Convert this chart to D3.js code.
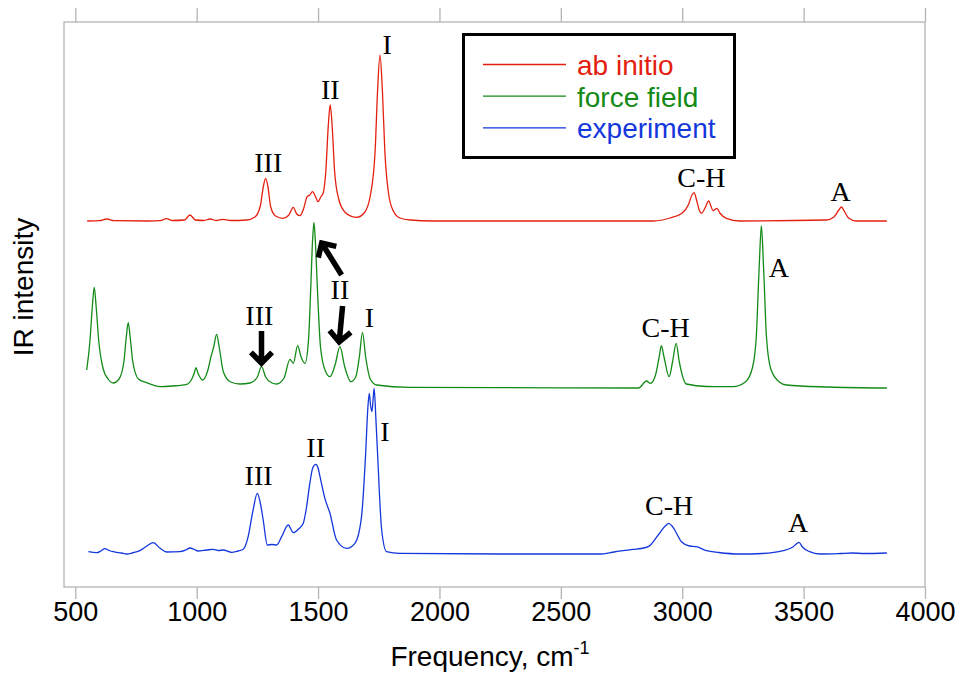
<!DOCTYPE html>
<html>
<head>
<meta charset="utf-8">
<script src="https://cdn.jsdelivr.net/npm/d3@7"></script>
<style>
  body { margin: 0; background: #fff; }
  svg { display: block; }
</style>
</head>
<body>
<svg id="chart" width="963" height="700"></svg>
<script>
// ---------- data ----------
const xTicks = [500, 1000, 1500, 2000, 2500, 3000, 3500, 4000];
const seriesNames = ["ab initio", "force field", "experiment"];
const seriesColors = ["#e3200f", "#138a17", "#1437dc"];
const seriesOffsets = [366, 200, 34];

// [frequency (cm-1), intensity above trace baseline]
const abInitio = [
  [549,0],[600,0.3],[629,2],[660,0.3],[800,0],[850,0.3],[876,2.3],[900,0.5],[950,1],[972,6],[995,1],
  [1030,0.5],[1055,2],[1080,0.5],[1107,1.7],[1140,0.5],[1206,1],[1240,4],[1262,15],[1275,35],[1284,42.7],
  [1293,35],[1305,14],[1325,5],[1356,2.7],[1380,6],[1398,13.7],[1412,7],[1425,5.3],[1440,12],[1455,24.3],
  [1466,26],[1477,29.3],[1490,24],[1500,19.3],[1511,24],[1521,28],[1532,50],[1542,95],[1550,116],[1558,95],
  [1568,50],[1585,22],[1610,9],[1640,4.5],[1659,3.7],[1690,8],[1715,25],[1735,70],[1745,130],[1755,166],
  [1765,130],[1775,70],[1790,28],[1810,10],[1837,3],[1880,1],[1973,0],[2500,0],[2880,0],[2950,3],[3000,8],
  [3025,16],[3040,26],[3049,28.3],[3058,22],[3070,11],[3079,7.7],[3092,12],[3109,20],[3118,15],[3127,10.3],
  [3143,12.7],[3155,8],[3182,2.7],[3237,0],[3594,1],[3625,4],[3645,11],[3656,14],[3667,10],[3685,3],
  [3717,0],[3843,0]
];
const forceField = [
  [547,17],[560,45],[570,80],[578,99.7],[586,80],[597,45],[615,18],[635,8],[656,4],[680,8],[700,25],
  [710,50],[718,64.3],[726,50],[737,25],[760,8],[794,4.3],[849,0.3],[900,1],[959,2.7],[980,8],[990,14],
  [997,19.3],[1005,14],[1025,7],[1045,16],[1059,30.3],[1070,40],[1082,52.7],[1094,38],[1110,15],[1140,5],
  [1178,3],[1220,4],[1250,10],[1267,20.3],[1284,10],[1310,4],[1329,3],[1360,9],[1384,27.7],[1398,23.7],
  [1416,41.3],[1430,30],[1446,23.7],[1460,45],[1470,100],[1477,145],[1483,164.7],[1489,145],[1497,100],
  [1510,40],[1530,16],[1549,10.3],[1570,22],[1590,40.3],[1610,20],[1635,5.3],[1655,10],[1670,30],
  [1683,54.7],[1696,30],[1715,8],[1741,2],[1878,-0.3],[2500,-0.8],[2820,-1],[2853,6],[2869,3.7],[2890,12],
  [2905,30],[2914,41.3],[2925,30],[2946,10.3],[2960,25],[2975,43.7],[2988,25],[3017,3],[3100,0.5],
  [3209,0.3],[3260,5],[3290,20],[3305,50],[3317,120],[3326,161.3],[3335,120],[3347,50],[3365,18],
  [3400,5],[3429,2],[3600,0],[3843,-1]
];
const experiment = [
  [554,1.3],[588,0.3],[605,2],[622,4.3],[640,2.5],[656,1.3],[690,0],[712,-1],[740,0.5],[766,2.3],[795,7],
  [821,10.3],[848,5],[876,1],[931,1.3],[955,3],[972,5],[990,3.5],[1006,2],[1040,3],[1068,3.7],[1090,2.5],
  [1109,3],[1144,0.7],[1170,2],[1192,3.7],[1212,16.3],[1230,40],[1250,59.7],[1262,50],[1274,33],[1291,8],
  [1310,8.5],[1329,8],[1350,16.3],[1377,28],[1398,20.3],[1420,24],[1439,29.7],[1452,45],[1466,69.7],
  [1478,85],[1491,88.7],[1500,85],[1508,76.3],[1528,54.7],[1549,39.7],[1576,13],[1618,4.7],[1652,9.7],
  [1679,36.3],[1696,99.7],[1705,145],[1711,159.7],[1716,148],[1722,141.3],[1727,155],[1731,164.7],
  [1738,135],[1745,99.7],[1762,23],[1782,1.3],[1837,-0.3],[2249,-1],[2660,-1],[2720,1],[2798,3.7],
  [2830,4.5],[2860,6.3],[2901,18],[2930,27],[2945,29.7],[2958,27],[2969,23],[2997,11.3],[3030,7],
  [3059,6.3],[3100,2.3],[3150,0.5],[3237,-1],[3330,-0.5],[3416,2.3],[3457,6.3],[3470,9],[3481,10.7],
  [3495,6],[3525,1.3],[3566,-1],[3650,-0.5],[3700,0],[3750,-0.5],[3843,0]
];
const seriesData = [abInitio, forceField, experiment];

// peak labels: [text, frequency, level]
const peakLabels = [
  ["III",1295,415],["II",1550,488],["I",1785,533],["C-H",3079,400],["A",3652,386],
  ["III",1258,262],["II",1590,288],["I",1711,260],["C-H",2932,250],["A",3398,310],
  ["III",1255,102],["II",1490,130],["I",1775,146],["C-H",2946,72],["A",3477,55]
];
// arrows: [fromFreq, fromLevel, toFreq, toLevel]
const arrows = [
  [1267,256,1267,224],
  [1601,281,1587,245],
  [1597,312,1515,344]
];

// ---------- layout ----------
const svg = d3.select("#chart");
const frame = {left: 64, right: 925, top: 22, bottom: 587};
const x = d3.scaleLinear().domain([500, 4000]).range([75.3, 925]);
const y = d3.scaleLinear().domain([0, 565]).range([587, 22]);

// frame
svg.append("rect")
  .attr("x", frame.left).attr("y", frame.top)
  .attr("width", frame.right - frame.left).attr("height", frame.bottom - frame.top)
  .attr("fill", "none").attr("stroke", "#b4b4b4").attr("stroke-width", 1.3);

// bottom axis
const bottomAxis = d3.axisBottom(x).tickValues(xTicks).tickSize(12).tickPadding(3).tickFormat(d3.format("d"));
const gb = svg.append("g").attr("transform", `translate(0,${frame.bottom})`).call(bottomAxis);
gb.select(".domain").remove();
gb.selectAll(".tick line").attr("stroke", "#b4b4b4").attr("stroke-width", 1.3);
gb.selectAll(".tick text").attr("font-family", "'Liberation Sans', Arial, sans-serif")
  .attr("font-size", 27).attr("fill", "#000");

// top axis ticks
const topAxis = d3.axisTop(x).tickValues(xTicks).tickSize(14).tickFormat("");
const gt = svg.append("g").attr("transform", `translate(0,${frame.top})`).call(topAxis);
gt.select(".domain").remove();
gt.selectAll(".tick line").attr("stroke", "#b4b4b4").attr("stroke-width", 1.3);

// axis titles
const xt = svg.append("text")
  .attr("x", 490).attr("y", 666)
  .attr("text-anchor", "middle")
  .attr("font-family", "'Liberation Sans', Arial, sans-serif")
  .attr("font-size", 28).attr("fill", "#000");
xt.append("tspan").text("Frequency, cm");
xt.append("tspan").attr("dy", -12).attr("font-size", 18).text("-1");

svg.append("text")
  .attr("transform", "translate(33,287) rotate(-90)")
  .attr("text-anchor", "middle")
  .attr("font-family", "'Liberation Sans', Arial, sans-serif")
  .attr("font-size", 28).attr("fill", "#000")
  .text("IR intensity");

// spectra
seriesData.forEach((data, i) => {
  const line = d3.line()
    .x(d => x(d[0]))
    .y(d => y(d[1] + seriesOffsets[i]))
    .curve(d3.curveMonotoneX);
  svg.append("path")
    .datum(data)
    .attr("d", line)
    .attr("fill", "none")
    .attr("stroke", seriesColors[i])
    .attr("stroke-width", 1.3)
    .attr("stroke-linejoin", "round");
});

// peak labels
svg.append("g").selectAll("text").data(peakLabels).join("text")
  .attr("x", d => x(d[1])).attr("y", d => y(d[2]))
  .attr("text-anchor", "middle")
  .attr("font-family", "'Liberation Serif', 'Times New Roman', serif")
  .attr("font-size", 28).attr("fill", "#000")
  .text(d => d[0]);

// arrows
arrows.forEach(a => {
  const x0 = x(a[0]), y0 = y(a[1]), x1 = x(a[2]), y1 = y(a[3]);
  const ang = Math.atan2(y1 - y0, x1 - x0);
  const len = 15, spread = Math.PI * 0.25;
  const h1 = [x1 - len * Math.cos(ang - spread), y1 - len * Math.sin(ang - spread)];
  const h2 = [x1 - len * Math.cos(ang + spread), y1 - len * Math.sin(ang + spread)];
  const p = d3.path();
  p.moveTo(x0, y0); p.lineTo(x1 - 2 * Math.cos(ang), y1 - 2 * Math.sin(ang));
  p.moveTo(h1[0], h1[1]); p.lineTo(x1, y1); p.lineTo(h2[0], h2[1]);
  svg.append("path").attr("d", p.toString())
    .attr("fill", "none").attr("stroke", "#000").attr("stroke-width", 5.5)
    .attr("stroke-linejoin", "miter").attr("stroke-linecap", "butt");
});

// legend
const lg = svg.append("g");
lg.append("rect").attr("x", 463.5).attr("y", 34.5).attr("width", 271).attr("height", 123)
  .attr("fill", "#fff").attr("stroke", "#000").attr("stroke-width", 3);
seriesNames.forEach((name, i) => {
  const ly = 64.5 + i * 31.7;
  lg.append("line").attr("x1", 483).attr("x2", 566).attr("y1", ly).attr("y2", ly)
    .attr("stroke", seriesColors[i]).attr("stroke-width", 1.3);
  lg.append("text").attr("x", 577).attr("y", ly + 10.5)
    .attr("font-family", "'Liberation Sans', Arial, sans-serif")
    .attr("font-size", 28).attr("fill", seriesColors[i])
    .text(name);
});
</script>
</body>
</html>
